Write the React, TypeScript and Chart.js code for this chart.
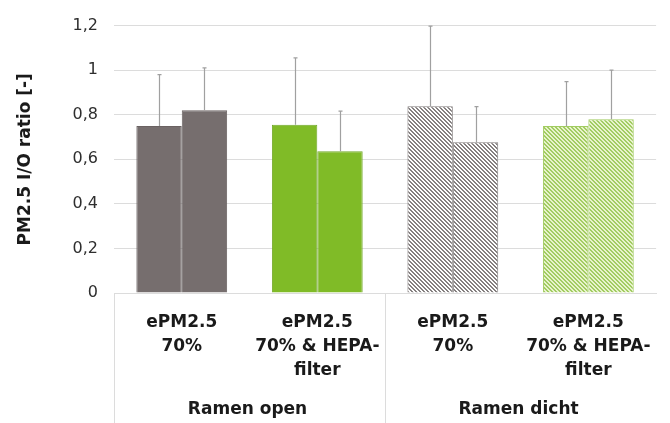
import React, { useEffect, useRef } from "react";
import { Chart, registerables } from "chart.js";

Chart.register(...registerables);

const categories: string[][] = [
  ["ePM2.5", "70%"],
  ["ePM2.5", "70% & HEPA-", "filter"],
  ["ePM2.5", "70%"],
  ["ePM2.5", "70% & HEPA-", "filter"],
];
const groups: string[] = ["Ramen open", "Ramen dicht"];
const seriesA: number[] = [0.75, 0.755, 0.838, 0.749];
const errorA: number[] = [0.23, 0.3, 0.36, 0.2];
const seriesB: number[] = [0.82, 0.636, 0.676, 0.78];
const errorB: number[] = [0.19, 0.18, 0.16, 0.22];
const yMin = 0;
const yMax = 1.2;
const yStep = 0.2;

const FONT = "'DejaVu Sans', sans-serif";

function makeHatch(line: string, bg: string): CanvasPattern | string {
  const c = document.createElement("canvas");
  const n = 4;
  c.width = n;
  c.height = n;
  const ctx = c.getContext("2d");
  if (!ctx) return line;
  ctx.fillStyle = bg;
  ctx.fillRect(0, 0, n, n);
  ctx.fillStyle = line;
  for (let y = 0; y < n; y++) {
    for (let x = 0; x < n; x++) {
      const d = (((x - y) % n) + n) % n;
      if (d === 0 || d === 1) ctx.fillRect(x, y, 1, 1);
    }
  }
  const p = ctx.createPattern(c, "repeat");
  return p || line;
}

export default function App() {
  const ref = useRef<HTMLCanvasElement | null>(null);

  useEffect(() => {
    document.body.style.margin = "0";
    const canvas = ref.current;
    if (!canvas) return;

    const greyHatch = makeHatch("#858080", "#ffffff");
    const greenHatch = makeHatch("#a2cc62", "#e8f3cc");
    const fills = ["#766e6e", "#80bb27", greyHatch, greenHatch];
    const borders = ["#6a6262", "#72a82a", "#858080", "#a2cc62"];
    const errors = [errorA, errorB];

    const errorPlugin = {
      id: "errorBars",
      afterDatasetsDraw(chart: any) {
        const ctx = chart.ctx;
        const yScale = chart.scales.y;
        ctx.save();
        ctx.strokeStyle = "#a0a0a0";
        ctx.lineWidth = 1.2;
        chart.data.datasets.forEach((ds: any, di: number) => {
          const meta = chart.getDatasetMeta(di);
          meta.data.forEach((bar: any, i: number) => {
            const v = ds.data[i];
            const top = yScale.getPixelForValue(v + errors[di][i]);
            const x = Math.round(bar.x) + 0.5;
            ctx.beginPath();
            ctx.moveTo(x, bar.y);
            ctx.lineTo(x, top);
            ctx.moveTo(x - 2, top);
            ctx.lineTo(x + 2, top);
            ctx.stroke();
          });
        });
        ctx.restore();
      },
    };

    const groupPlugin = {
      id: "groupLabels",
      afterDraw(chart: any) {
        const ctx = chart.ctx;
        const xs = chart.scales.x;
        const bottom = chart.chartArea.bottom;
        const h = chart.height;
        ctx.save();
        ctx.strokeStyle = "#dcdcdc";
        ctx.lineWidth = 1;
        const seps = [xs.left, (xs.getPixelForTick(1) + xs.getPixelForTick(2)) / 2];
        seps.forEach((sx: number) => {
          const x = Math.round(sx) + 0.5;
          ctx.beginPath();
          ctx.moveTo(x, bottom);
          ctx.lineTo(x, h);
          ctx.stroke();
        });
        ctx.fillStyle = "#1a1a1a";
        ctx.font = `bold 17px ${FONT}`;
        ctx.textAlign = "center";
        ctx.textBaseline = "middle";
        groups.forEach((g: string, gi: number) => {
          const cx = (xs.getPixelForTick(gi * 2) + xs.getPixelForTick(gi * 2 + 1)) / 2;
          ctx.fillText(g, cx - 2, bottom + 117);
        });
        ctx.restore();
      },
    };

    const chart = new Chart(canvas, {
      type: "bar",
      data: {
        labels: categories,
        datasets: [
          {
            label: "A",
            data: seriesA,
            backgroundColor: fills,
            borderColor: borders,
            borderWidth: 1,
            categoryPercentage: 0.67,
            barPercentage: 1.0,
          },
          {
            label: "B",
            data: seriesB,
            backgroundColor: fills,
            borderColor: borders,
            borderWidth: 1,
            categoryPercentage: 0.67,
            barPercentage: 1.0,
          },
        ],
      },
      options: {
        animation: false,
        responsive: true,
        maintainAspectRatio: false,
        layout: { padding: { top: 19, right: 12, bottom: 0, left: 0 } },
        plugins: {
          legend: { display: false },
          tooltip: { enabled: false },
        },
        scales: {
          x: {
            grid: { display: false, drawTicks: false },
            border: { display: true, color: "#dcdcdc" },
            ticks: {
              color: "#1a1a1a",
              font: { family: FONT, size: 17, weight: "bold", lineHeight: 1.4 },
              padding: 18,
              maxRotation: 0,
              autoSkip: false,
            },
            afterFit(scale: any) {
              scale.height = 130;
            },
          },
          y: {
            min: yMin,
            max: yMax,
            grid: { color: "#dcdcdc", drawTicks: false },
            border: { display: false },
            ticks: {
              stepSize: yStep,
              color: "#2e2e2e",
              font: { family: FONT, size: 16 },
              padding: 16,
              callback: (v: any) => String(Math.round(Number(v) * 10) / 10).replace(".", ","),
            },
            title: {
              display: true,
              text: "PM2.5 I/O ratio [-]",
              color: "#1a1a1a",
              font: { family: FONT, size: 17, weight: "bold" },
              padding: { top: 15, bottom: 0 },
            },
            afterFit(scale: any) {
              scale.width = 114;
            },
          },
        },
      },
      plugins: [errorPlugin, groupPlugin],
    });

    return () => chart.destroy();
  }, []);

  return (
    <div style={{ width: "670px", height: "423px", position: "relative" }}>
      <canvas ref={ref} />
    </div>
  );
}
